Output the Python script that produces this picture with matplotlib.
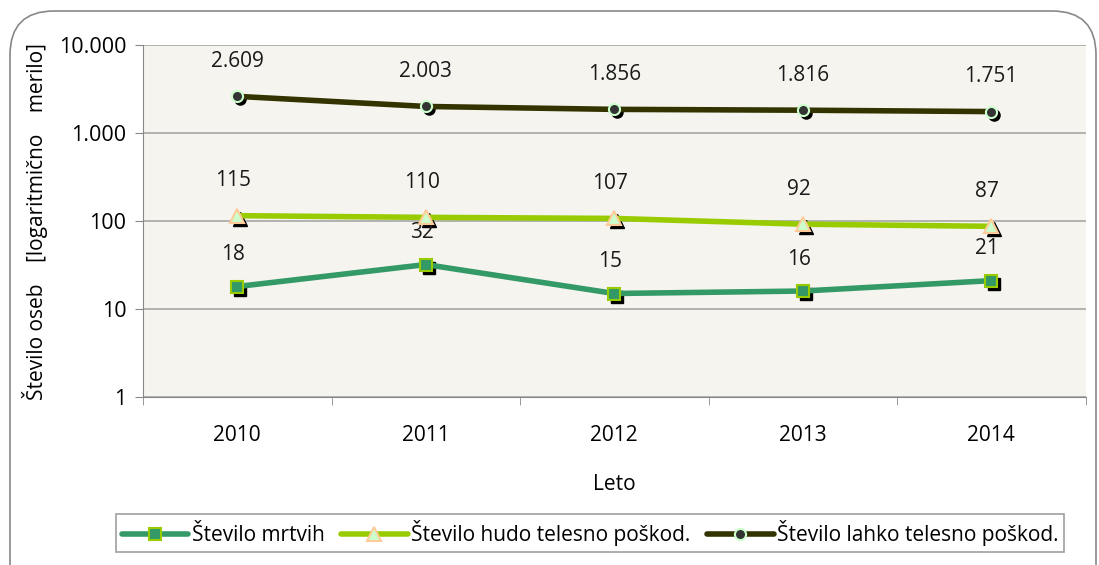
import matplotlib
matplotlib.use("Agg")
import matplotlib.pyplot as plt
import matplotlib.transforms as mtransforms
from matplotlib.patches import FancyBboxPatch
from matplotlib.ticker import FixedLocator, NullLocator

years = ["2010", "2011", "2012", "2013", "2014"]
mrtvih = [18, 32, 15, 16, 21]
hudo = [115, 110, 107, 92, 87]
lahko = [2609, 2003, 1856, 1816, 1751]
labels_lahko = ["2.609", "2.003", "1.856", "1.816", "1.751"]
ytick_vals = [1, 10, 100, 1000, 10000]
ytick_labels = ["1", "10", "100", "1.000", "10.000"]
series_names = ["Število mrtvih", "Število hudo telesno poškod.", "Število lahko telesno poškod."]

plt.rcParams['font.family'] = ['Open Sans', 'DejaVu Sans']

fig = plt.figure(figsize=(10.99, 5.65), dpi=100)
W, H = 1099, 565
ax = fig.add_axes([143 / W, 1 - 397 / H, (1085.5 - 143) / W, (397 - 45) / H])
ax.set_facecolor('#F5F4EF')

# rounded outer border
border = FancyBboxPatch((10 / W, -60 / H), (1096 - 10) / W, (H + 60 - 11) / H,
                        boxstyle="round,pad=0,rounding_size=0.04",
                        transform=fig.transFigure, facecolor='none',
                        edgecolor='#888888', linewidth=1.2, zorder=0,
                        mutation_aspect=W / H)
fig.patches.append(border)

x = list(range(len(years)))
ax.set_yscale('log')
ax.set_ylim(1, 10000)
ax.set_xlim(-0.5, len(years) - 0.5)
ax.yaxis.set_major_locator(FixedLocator(ytick_vals))
ax.yaxis.set_minor_locator(NullLocator())
ax.set_yticks(ytick_vals)
ax.set_yticklabels(ytick_labels, fontsize=15.5)
ax.set_xticks(x)
ax.set_xticklabels(years, fontsize=15)
ax.set_xticks([i - 0.5 for i in range(len(years) + 1)], minor=True)
ax.tick_params(axis='x', which='major', length=0, pad=20)
ax.tick_params(axis='x', which='minor', length=6, color='#888888')
ax.tick_params(axis='y', length=6, color='#888888', pad=6)
ax.grid(axis='y', which='major', color='#A6A6A6', linewidth=1.2)
ax.set_axisbelow(True)
for s in ['top', 'right']:
    ax.spines[s].set_visible(False)
ax.spines['left'].set_color('#888888')
ax.spines['bottom'].set_color('#888888')

shadow = mtransforms.offset_copy(ax.transData, fig=fig, x=3, y=-3, units='dots')

specs = [
    (mrtvih, '#339966', 's', '#339966', '#99CC00', 9),
    (hudo, '#99CC00', '^', '#CCFFCC', '#FFCC99', 10),
    (lahko, '#333300', 'o', '#333333', '#CCFFCC', 8),
]
handles = []
for (vals, lc, mk, mfc, mec, ms), name in zip(specs, series_names):
    ax.plot(x, vals, linestyle='none', marker=mk, color='black', markersize=ms,
            transform=shadow, zorder=3)
    h, = ax.plot(x, vals, color=lc, linewidth=4, marker=mk, markerfacecolor=mfc,
                 markeredgecolor=mec, markeredgewidth=1.5, markersize=ms,
                 zorder=4, label=name, solid_capstyle='round')
    handles.append(h)

for i in x:
    ax.annotate(str(mrtvih[i]), (i, mrtvih[i]), xytext=(-3, 23), textcoords='offset points',
                ha='center', va='center', fontsize=15, color='#1a1a1a')
    ax.annotate(str(hudo[i]), (i, hudo[i]), xytext=(-3, 25), textcoords='offset points',
                ha='center', va='center', fontsize=15, color='#1a1a1a')
    ax.annotate(labels_lahko[i], (i, lahko[i]), xytext=(0, 25), textcoords='offset points',
                ha='center', va='center', fontsize=15, color='#1a1a1a')

ax.set_xlabel('Leto', fontsize=15, labelpad=20)
fig.text(35 / W, 1 - 222 / H, 'Število oseb    [logaritmično    merilo]', rotation=90,
         ha='center', va='center', fontsize=15)

leg = fig.legend(handles=handles, labels=series_names, loc='center',
                 bbox_to_anchor=(590 / W, 1 - 533 / H), ncol=3, fontsize=15,
                 frameon=True, fancybox=False, edgecolor='#888888',
                 handlelength=3.2, handletextpad=0.15, columnspacing=0.8,
                 borderpad=0.3, borderaxespad=0)
leg.get_frame().set_linewidth(1.2)

fig.savefig('out.png', dpi=100)
